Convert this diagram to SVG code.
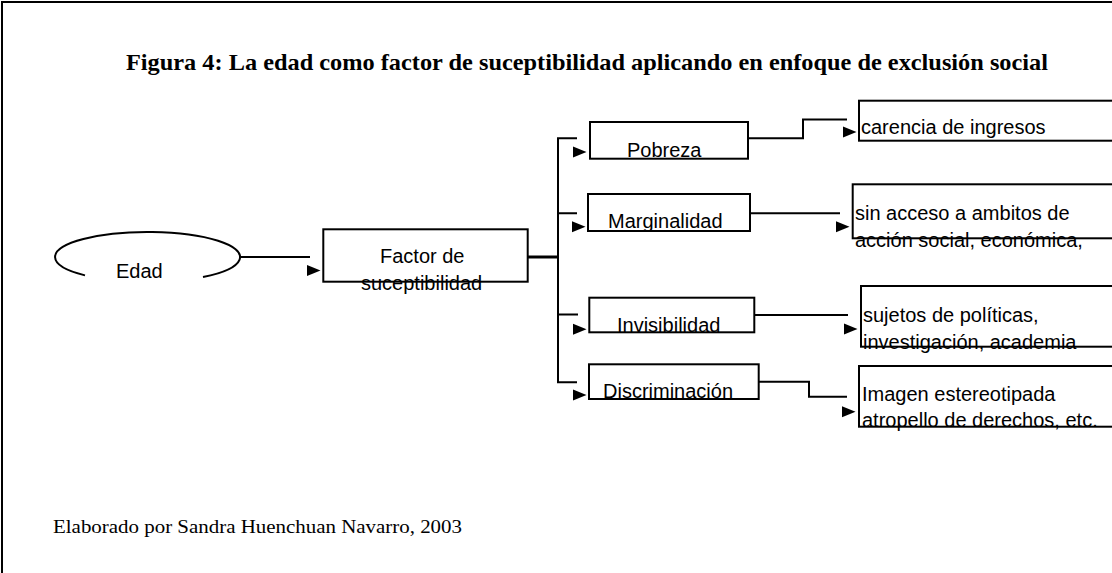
<svg xmlns="http://www.w3.org/2000/svg" xmlns:xlink="http://www.w3.org/1999/xlink" width="1112" height="573" viewBox="0 0 1112 573">
<style>
.box{fill:none;stroke:#000;stroke-width:2}
.ln{fill:none;stroke:#000;stroke-width:2}
.t{font-family:"Liberation Sans",Arial,sans-serif;font-size:20px;fill:#000}
.serif{font-family:"Liberation Serif","Times New Roman",serif;fill:#000}
</style>
<defs>
<path id="ah" d="M0,-5.5 L13.5,0 L0,5.5 Z" fill="#000"/>
</defs>
<rect width="1112" height="573" fill="#fff"/>
<path d="M2,573 V2 H1112" class="ln"/>
<text class="serif" x="126" y="70" font-size="22.5" font-weight="bold" textLength="922" lengthAdjust="spacingAndGlyphs">Figura 4: La edad como factor de suceptibilidad aplicando en enfoque de exclusión social</text>
<text class="serif" x="53" y="533" font-size="19" textLength="409" lengthAdjust="spacingAndGlyphs">Elaborado por Sandra Huenchuan Navarro, 2003</text>
<g id="connectors">
<path class="ln" d="M240,257 H310"/>
<path d="M527,257 H558" fill="none" stroke="#000" stroke-width="3"/>
<path class="ln" d="M558,138.3 V382.3"/>
<path class="ln" d="M557,138.3 H577 M557,213.3 H577 M557,314.5 H578 M557,382.3 H577"/>
<path class="ln" d="M748,138.3 H803 V119.5 H847"/>
<path class="ln" d="M750,213.3 H840"/>
<path class="ln" d="M754,315 H848"/>
<path class="ln" d="M758,381.7 H809 V396.7 H847"/>
<use xlink:href="#ah" x="307" y="270.5"/>
<use xlink:href="#ah" x="573" y="152"/>
<use xlink:href="#ah" x="572" y="226.7"/>
<use xlink:href="#ah" x="573" y="329.3"/>
<use xlink:href="#ah" x="573" y="395"/>
<use xlink:href="#ah" x="843" y="132"/>
<use xlink:href="#ah" x="836" y="226.7"/>
<use xlink:href="#ah" x="844" y="329"/>
<use xlink:href="#ah" x="842" y="411.7"/>
</g>
<g id="edad">
<path class="ln" d="M85,275.4 A92.5,25 0 1 1 203,277"/>
<text class="t" x="116" y="278" font-size="23.5">Edad</text>
</g>
<g id="factor">
<rect class="box" x="323.3" y="229.3" width="204.4" height="52.4"/>
<text class="t" x="380" y="263">Factor de</text>
<text class="t" x="361" y="290">suceptibilidad</text>
</g>
<g id="pobreza">
<rect class="box" x="590" y="122" width="158" height="36.7"/>
<text class="t" x="627" y="156.7">Pobreza</text>
</g>
<g id="marginalidad">
<rect class="box" x="588" y="194" width="162" height="37"/>
<text class="t" x="608" y="228">Marginalidad</text>
</g>
<g id="invisibilidad">
<rect class="box" x="589.3" y="297.7" width="165" height="34.6"/>
<text class="t" x="617" y="332">Invisibilidad</text>
</g>
<g id="discriminacion">
<rect class="box" x="589" y="364.3" width="169.7" height="34.7"/>
<text class="t" x="603" y="397.7">Discriminación</text>
</g>
<g id="carencia">
<rect class="box" x="859" y="100.7" width="270" height="40"/>
<text class="t" x="861" y="134.3">carencia de ingresos</text>
</g>
<g id="sinacceso">
<rect class="box" x="852.7" y="184.3" width="280" height="54"/>
<text class="t" x="855" y="220">sin acceso a ambitos de</text>
<text class="t" x="855" y="246.7">acción social, económica,</text>
</g>
<g id="sujetos">
<rect class="box" x="861" y="286" width="270" height="60.7"/>
<text class="t" x="863" y="321.7">sujetos de políticas,</text>
<text class="t" x="863" y="349.3">investigación, academia</text>
</g>
<g id="imagen">
<rect class="box" x="859" y="366" width="270" height="60.7"/>
<text class="t" x="862" y="400.7">Imagen estereotipada</text>
<text class="t" x="862" y="427">atropello de derechos, etc.</text>
</g>
</svg>
